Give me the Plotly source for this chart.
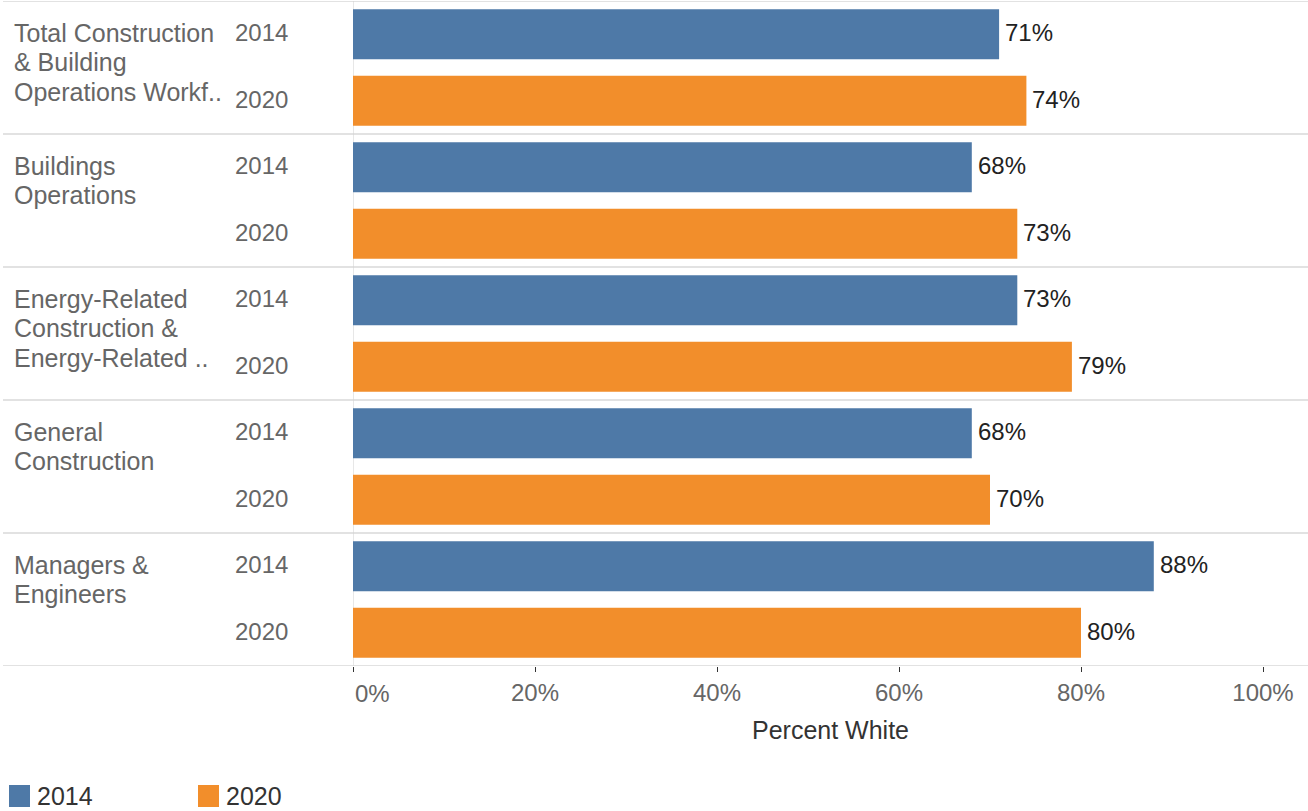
import plotly.graph_objects as go

# Data
groups = [
    ["Total Construction", "& Building", "Operations Workf.."],
    ["Buildings", "Operations"],
    ["Energy-Related", "Construction &", "Energy-Related .."],
    ["General", "Construction"],
    ["Managers &", "Engineers"],
]
years = ["2014", "2020"]
pct_2014 = [71, 68, 73, 68, 88]
pct_2020 = [74, 73, 79, 70, 80]
x_ticks = [0, 20, 40, 60, 80, 100]
x_tick_labels = ["0%", "20%", "40%", "60%", "80%", "100%"]
axis_title = "Percent White"

BLUE = "#4e79a7"
ORANGE = "#f28e2b"
FONT = "Liberation Sans, Arial, sans-serif"
LABEL_GRAY = "#666666"
FS = 24

W, H = 1308, 811
ML, MR, MT, MB = 353, 0, 1, 145
plot_w = W - ML - MR
plot_h = H - MT - MB
PX_PER_PCT = 9.1
x_max = plot_w / PX_PER_PCT


def px_x(px):
    return (px - ML) / plot_w


def px_y(py):
    return (H - MB - py) / plot_h


n = len(groups)
y_2014 = [2 * i + 0.5 for i in range(n)]
y_2020 = [2 * i + 1.5 for i in range(n)]

fig = go.Figure()
fig.add_trace(go.Bar(x=pct_2014, y=y_2014, orientation="h", width=0.75,
                     marker=dict(color=BLUE, line=dict(width=0)), name="2014",
                     showlegend=False, hoverinfo="skip"))
fig.add_trace(go.Bar(x=pct_2020, y=y_2020, orientation="h", width=0.75,
                     marker=dict(color=ORANGE, line=dict(width=0)), name="2020",
                     showlegend=False, hoverinfo="skip"))

annotations = []
shapes = []

# value labels at bar ends
for vals, ys in ((pct_2014, y_2014), (pct_2020, y_2020)):
    for v, y in zip(vals, ys):
        annotations.append(dict(x=v, y=y, xref="x", yref="y", text=f"{v}%",
                                showarrow=False, xanchor="left", xshift=4, yshift=1.5,
                                yanchor="middle",
                                font=dict(family=FONT, size=FS, color="#222222")))

# row headers: group names and years
line_gap = 29.5 / 66.5
for i, lines in enumerate(groups):
    for j, line in enumerate(lines):
        annotations.append(dict(x=px_x(12), y=y_2014[i] + j * line_gap, xref="paper", yref="y",
                                text=line, showarrow=False, xanchor="left", yanchor="middle",
                                yshift=1.5,
                                font=dict(family=FONT, size=25, color=LABEL_GRAY)))
    for yv, yr in ((y_2014[i], years[0]), (y_2020[i], years[1])):
        annotations.append(dict(x=px_x(233), y=yv, xref="paper", yref="y",
                                text=yr, showarrow=False, xanchor="left", yanchor="middle",
                                yshift=1.5,
                                font=dict(family=FONT, size=FS, color=LABEL_GRAY)))

# group separators
for k in range(n + 1):
    shapes.append(dict(type="line", xref="paper", yref="y", x0=px_x(3), x1=1,
                       y0=2 * k, y1=2 * k, line=dict(color="#d9d9d9", width=1.5),
                       layer="below"))
# zero line
shapes.append(dict(type="line", xref="x", yref="y", x0=0, x1=0, y0=0, y1=2 * n,
                   line=dict(color="#d0d0d0", width=1), layer="below"))

# first tick label sits to the right of its tick
annotations.append(dict(x=0, y=px_y(693), xref="x", yref="paper", text=x_tick_labels[0],
                        showarrow=False, xanchor="left", yanchor="middle", xshift=0,
                        font=dict(family=FONT, size=FS, color=LABEL_GRAY)))

# legend
for yr, col, lx in ((years[0], BLUE, 9), (years[1], ORANGE, 198)):
    shapes.append(dict(type="rect", xref="paper", yref="paper",
                       x0=px_x(lx), x1=px_x(lx + 21), y0=px_y(807), y1=px_y(785),
                       fillcolor=col, line=dict(width=0)))
    annotations.append(dict(x=px_x(lx + 26), y=px_y(796), xref="paper", yref="paper",
                            text=yr, showarrow=False, xanchor="left", yanchor="middle",
                            font=dict(family=FONT, size=25, color="#333333")))

fig.update_layout(
    width=W, height=H,
    margin=dict(l=ML, r=MR, t=MT, b=MB, pad=0),
    paper_bgcolor="white", plot_bgcolor="white",
    barmode="overlay",
    font=dict(family=FONT, size=FS, color=LABEL_GRAY),
    xaxis=dict(range=[0, x_max], tickvals=x_ticks,
               ticktext=[""] + x_tick_labels[1:],
               ticks="outside", ticklen=5, tickwidth=1, tickcolor="#333333",
               tickfont=dict(family=FONT, size=FS, color=LABEL_GRAY),
               showgrid=False, zeroline=False, showline=False,
               title=dict(text=axis_title, standoff=16,
                          font=dict(family=FONT, size=25, color="#333333"))),
    yaxis=dict(range=[2 * n, 0], showticklabels=False, showgrid=False,
               zeroline=False, showline=False, ticks=""),
    annotations=annotations,
    shapes=shapes,
    showlegend=False,
)

fig.write_html("out.html")
